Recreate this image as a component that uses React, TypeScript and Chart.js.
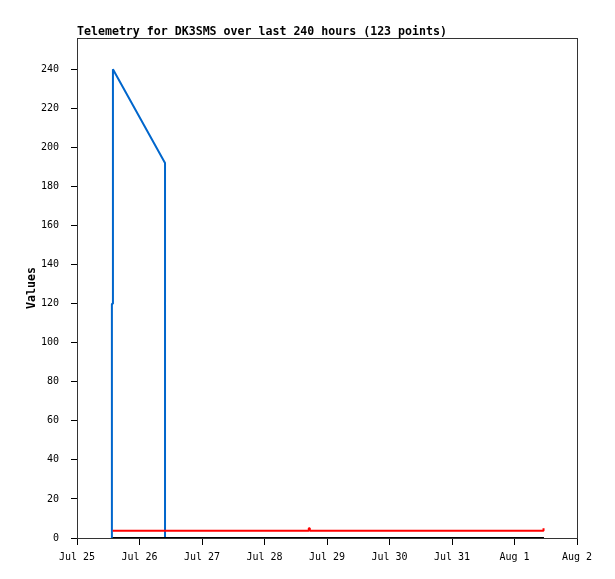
import { useEffect, useRef } from 'react';
import { Chart, registerables } from 'chart.js';

Chart.register(...registerables);

// hours since Jul 25 00:00
const tickLabels = ['Jul 25', 'Jul 26', 'Jul 27', 'Jul 28', 'Jul 29', 'Jul 30', 'Jul 31', 'Aug 1', 'Aug 2'];

const blackHours = [13.7, 60, 120, 179.3];
const blackValues = [0, 0, 0, 0];

const redHours = [13.7, 89.0, 89.0, 89.4, 89.4, 179.0, 179.0, 179.3];
const redValues = [3.7, 3.7, 5, 5, 3.7, 3.7, 5, 5];

const blueHours = [13.4, 13.4, 13.8, 13.8, 33.8, 33.8, 179.3];
const blueValues = [0, 120, 120, 240, 192, 0, 0];

const titleText = 'Telemetry for DK3SMS over last 240 hours (123 points)';
const mono = '"DejaVu Sans Mono", "Liberation Mono", monospace';

const toPoints = (xs: number[], ys: number[]) => xs.map((x, i) => ({ x, y: ys[i] }));

const frame = {
  id: 'frame',
  afterDraw(chart: any) {
    const { ctx, chartArea } = chart;
    ctx.save();
    ctx.strokeStyle = '#333';
    ctx.lineWidth = 1;
    ctx.strokeRect(chartArea.left + 0.5, chartArea.top + 0.5, chartArea.right - chartArea.left, chartArea.bottom - chartArea.top);
    ctx.fillStyle = '#000';
    ctx.font = 'bold 11.6px ' + mono;
    ctx.textBaseline = 'alphabetic';
    ctx.textAlign = 'left';
    ctx.fillText(titleText, chartArea.left, 35);
    ctx.restore();
  },
};

export default function App() {
  const chartRef = useRef<HTMLCanvasElement>(null);

  useEffect(() => {
    if (!chartRef.current) return;

    const line = { borderWidth: 2, pointRadius: 0, tension: 0, borderJoinStyle: 'bevel' as const };

    const chart = new Chart(chartRef.current, {
      type: 'line',
      data: {
        datasets: [
          { label: 'black', data: toPoints(blackHours, blackValues), borderColor: '#000', ...line },
          { label: 'red', data: toPoints(redHours, redValues), borderColor: '#ff0000', ...line },
          { label: 'blue', data: toPoints(blueHours, blueValues), borderColor: '#0066cc', ...line },
        ],
      },
      options: {
        animation: false,
        responsive: true,
        maintainAspectRatio: false,
        layout: { padding: { top: 38, right: 38, left: 0, bottom: 0 } },
        plugins: {
          legend: { display: false },
          tooltip: { enabled: false },
          title: { display: false },
        },
        scales: {
          x: {
            type: 'linear',
            min: 0,
            max: 192,
            ticks: {
              stepSize: 24,
              autoSkip: false,
              maxRotation: 0,
              padding: 6,
              color: '#000',
              font: { family: mono, size: 10 },
              callback: (v: any) => tickLabels[Math.round(Number(v) / 24)] ?? '',
            },
            grid: { drawOnChartArea: false, tickLength: 7, color: '#000' },
            border: { color: '#333' },
            afterFit: (scale: any) => {
              scale.height = 41;
            },
          },
          y: {
            min: 0,
            max: 256,
            ticks: {
              stepSize: 20,
              padding: 12,
              color: '#000',
              font: { family: mono, size: 10 },
            },
            afterBuildTicks: (scale: any) => {
              scale.ticks = scale.ticks.filter((t: any) => t.value <= 240);
            },
            grid: { drawOnChartArea: false, tickLength: 6, color: '#000' },
            border: { color: '#333' },
            title: {
              display: true,
              text: 'Values',
              color: '#000',
              font: { family: mono, size: 11.6, weight: 'bold' },
              padding: { top: 25, bottom: 0 },
            },
            afterFit: (scale: any) => {
              scale.width = 77;
            },
          },
        },
      },
      plugins: [frame],
    });

    return () => chart.destroy();
  }, []);

  return (
    <div style={{ position: 'fixed', left: 0, top: 0, width: 615, height: 579, background: '#fff' }}>
      <canvas ref={chartRef} />
    </div>
  );
}
